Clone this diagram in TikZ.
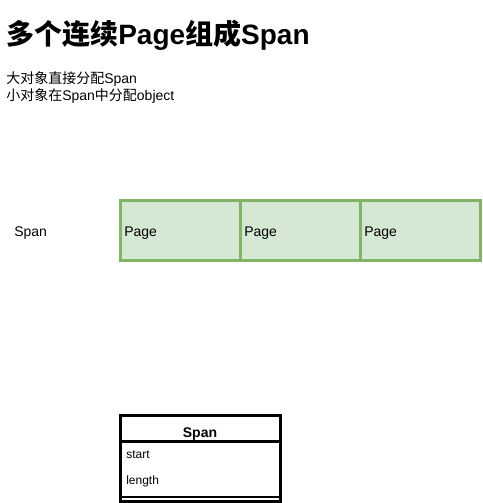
\documentclass[tikz,border=0pt]{standalone}
\usepackage{fontspec}
\setmainfont{Liberation Sans}
\newfontfamily\cjk{Noto Sans CJK SC}
\definecolor{pagefill}{HTML}{D5E8D4}
\definecolor{pagedraw}{HTML}{82B366}
\begin{document}
\begin{tikzpicture}[x=0.75pt,y=-0.75pt,
  pagebox/.style={draw=pagedraw,fill=pagefill,line width=2.25pt},
  lbl/.style={anchor=base west,inner sep=0pt,font=\fontsize{10.5pt}{12pt}\selectfont},
  fld/.style={anchor=base west,inner sep=0pt,font=\fontsize{9pt}{11pt}\selectfont},
  umlline/.style={line width=2.25pt,draw=black}]
\useasboundingbox (0,0) rectangle (482,503);
% title and notes
\node[anchor=base west,inner sep=0pt,font=\fontsize{21pt}{25pt}\selectfont\bfseries] (title) at (6,45) {{\cjk\bfseries 多个连续}Page{\cjk\bfseries 组成}Span};
\node[lbl] (note1) at (6,84) {{\cjk 大对象直接分配}Span};
\node[lbl] (note2) at (6,100) {{\cjk 小对象在}Span{\cjk 中分配}object};
% pages
\path[pagebox] (120,200.5) rectangle (240.5,260);
\path[pagebox] (240.5,200.5) rectangle (360.5,260);
\path[pagebox] (360.5,200.5) rectangle (480.5,260);
\node[lbl] (p1) at (124,236) {Page};
\node[lbl] (p2) at (244,236) {Page};
\node[lbl] (p3) at (364,236) {Page};
\node[lbl] (spanlbl) at (14,236) {Span};
% UML class
\draw[umlline,fill=white] (120,415) rectangle (280.5,501);
\draw[umlline] (120,441.5) -- (280.5,441.5);
\draw[line width=1.2pt] (120,497) -- (280.5,497);
\node[anchor=base,inner sep=0pt,font=\fontsize{10.5pt}{12pt}\selectfont\bfseries] (cls) at (200,437) {Span};
\node[fld] (f1) at (126,458) {start};
\node[fld] (f2) at (126,484) {length};
\end{tikzpicture}
\end{document}
